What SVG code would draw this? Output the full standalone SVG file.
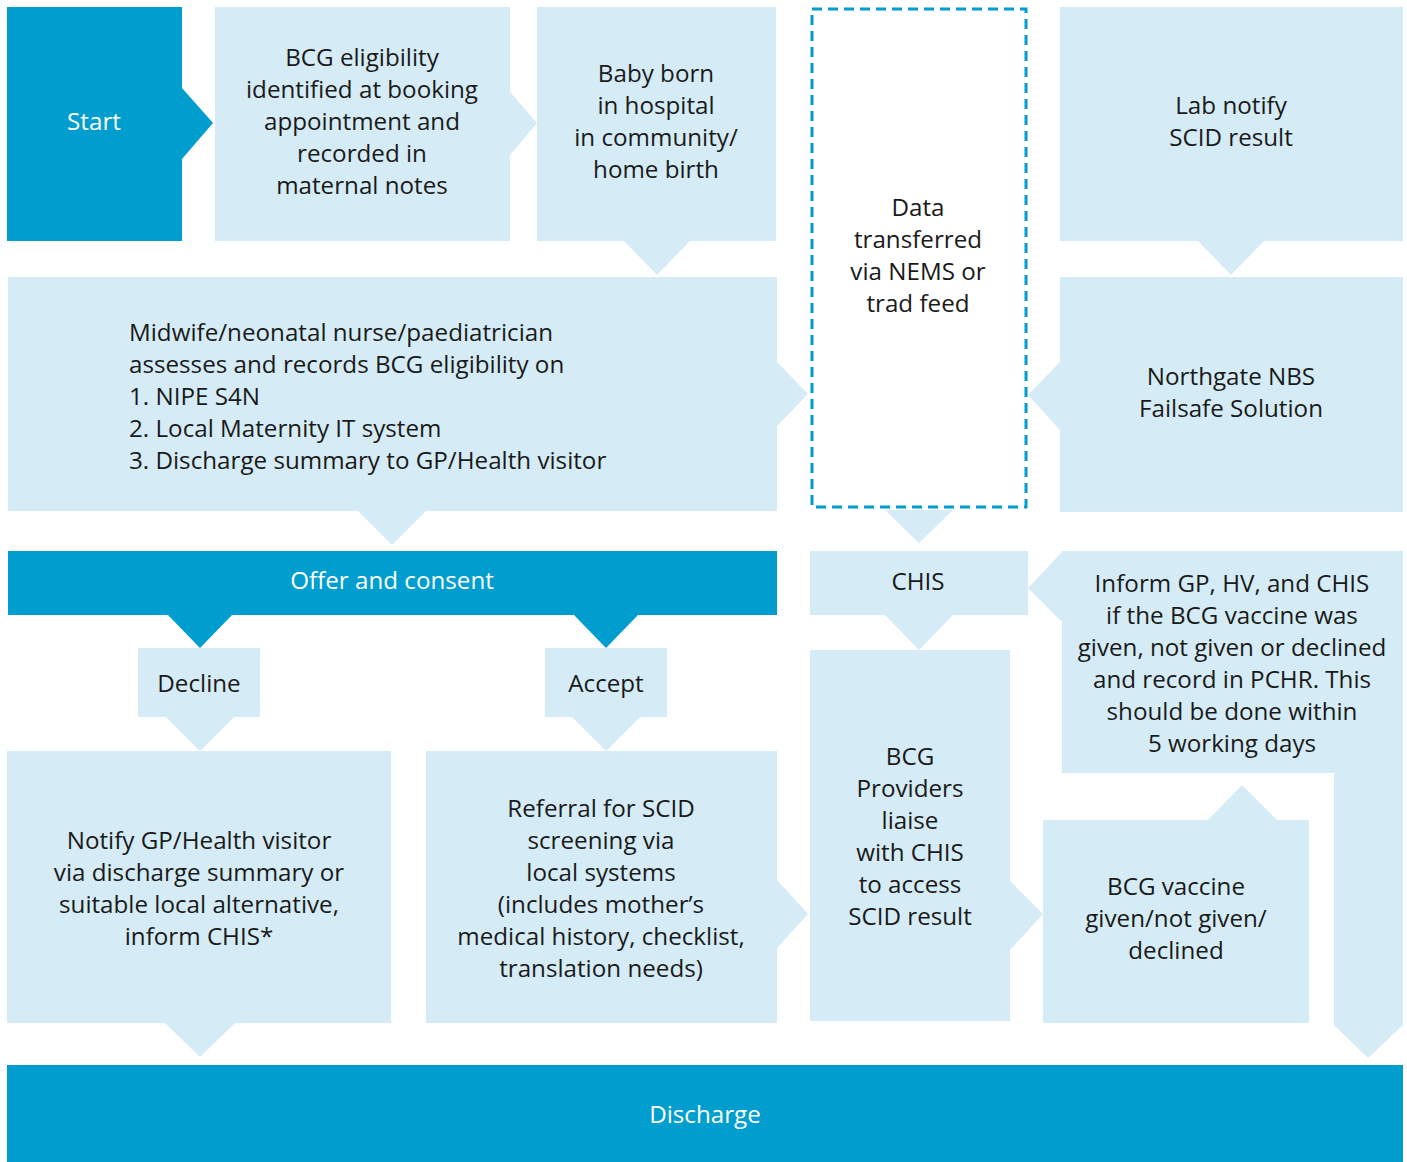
<svg xmlns="http://www.w3.org/2000/svg" width="1407" height="1162" viewBox="0 0 1407 1162">
<style>
.dk{fill:#009ECE}
.lt{fill:#D5ECF6}
text{font-family:"Open Sans","Noto Sans","Liberation Sans",sans-serif;font-size:24.2px;fill:#1a1a1a;text-anchor:middle}
text.w{fill:#ffffff}
text.l{text-anchor:start}
</style>
<rect width="1407" height="1162" fill="#ffffff"/>
<g id="connectors">
<polygon class="dk" points="182,88 213,123 182,159"/>
<polygon class="lt" points="510,92 537,123 510,155"/>
<polygon class="lt" points="624,241 657,275 690,241"/>
<polygon class="lt" points="1198,241 1231,275 1264,241"/>
<polygon class="lt" points="777,362 808,394 777,426"/>
<polygon class="lt" points="1060,362 1028,395 1060,430"/>
<polygon class="lt" points="885,510 919,543 953,510"/>
<polygon class="lt" points="358,511 392,545 426,511"/>
<polygon class="dk" points="167,614 200,648 233,614"/>
<polygon class="dk" points="573,614 606,648 639,614"/>
<polygon class="lt" points="166,717 200,751 234,717"/>
<polygon class="lt" points="572,717 606,751 640,717"/>
<polygon class="lt" points="165,1023 200,1057 235,1023"/>
<polygon class="lt" points="777,880 808,914 777,948"/>
<polygon class="lt" points="885,615 919,650 953,615"/>
<polygon class="lt" points="1062,552 1028,588 1062,622"/>
<polygon class="lt" points="1010,881 1043,914 1010,950"/>
<polygon class="lt" points="1208,820 1242,785 1277,820"/>
<polygon class="lt" points="1334,773 1403,773 1403,1025 1368,1058 1334,1025"/>
</g>
<g id="start"><rect class="dk" x="7" y="7" width="175" height="234"/><text class="w" x="94" y="130">Start</text></g>
<g id="booking"><rect class="lt" x="215" y="7" width="295" height="234"/>
<text x="362" y="66">BCG eligibility</text><text x="362" y="98">identified at booking</text><text x="362" y="130">appointment and</text><text x="362" y="162">recorded in</text><text x="362" y="194">maternal notes</text></g>
<g id="born"><rect class="lt" x="537" y="7" width="239" height="234"/>
<text x="656" y="82">Baby born</text><text x="656" y="114">in hospital</text><text x="656" y="146">in community/</text><text x="656" y="178">home birth</text></g>
<g id="data"><rect x="812" y="9" width="214" height="498" fill="#ffffff" stroke="#009ECE" stroke-width="3" stroke-dasharray="10,6"/>
<text x="918" y="216">Data</text><text x="918" y="248">transferred</text><text x="918" y="280">via NEMS or</text><text x="918" y="312">trad feed</text></g>
<g id="lab"><rect class="lt" x="1060" y="7" width="343" height="234"/>
<text x="1231" y="114">Lab notify</text><text x="1231" y="146">SCID result</text></g>
<g id="northgate"><rect class="lt" x="1060" y="277" width="343" height="235"/>
<text x="1231" y="385">Northgate NBS</text><text x="1231" y="417">Failsafe Solution</text></g>
<g id="midwife"><rect class="lt" x="8" y="277" width="769" height="234"/>
<text class="l" x="129" y="341">Midwife/neonatal nurse/paediatrician</text><text class="l" x="129" y="373">assesses and records BCG eligibility on</text><text class="l" x="129" y="405">1. NIPE S4N</text><text class="l" x="129" y="437">2. Local Maternity IT system</text><text class="l" x="129" y="469">3. Discharge summary to GP/Health visitor</text></g>
<g id="offer"><rect class="dk" x="8" y="551" width="769" height="64"/><text class="w" x="392" y="589">Offer and consent</text></g>
<g id="chis"><rect class="lt" x="810" y="551" width="218" height="64"/><text x="918" y="590">CHIS</text></g>
<g id="inform"><rect class="lt" x="1062" y="551" width="341" height="222"/>
<text x="1232" y="592">Inform GP, HV, and CHIS</text><text x="1232" y="624">if the BCG vaccine was</text><text x="1232" y="656">given, not given or declined</text><text x="1232" y="688">and record in PCHR. This</text><text x="1232" y="720">should be done within</text><text x="1232" y="752">5 working days</text></g>
<g id="decline"><rect class="lt" x="138" y="648" width="122" height="69"/><text x="199" y="692">Decline</text></g>
<g id="accept"><rect class="lt" x="545" y="648" width="122" height="69"/><text x="606" y="692">Accept</text></g>
<g id="notify"><rect class="lt" x="7" y="751" width="384" height="272"/>
<text x="199" y="849">Notify GP/Health visitor</text><text x="199" y="881">via discharge summary or</text><text x="199" y="913">suitable local alternative,</text><text x="199" y="945">inform CHIS*</text></g>
<g id="referral"><rect class="lt" x="426" y="751" width="351" height="272"/>
<text x="601" y="817">Referral for SCID</text><text x="601" y="849">screening via</text><text x="601" y="881">local systems</text><text x="601" y="913">(includes mother’s</text><text x="601" y="945">medical history, checklist,</text><text x="601" y="977">translation needs)</text></g>
<g id="providers"><rect class="lt" x="810" y="650" width="200" height="371"/>
<text x="910" y="765">BCG</text><text x="910" y="797">Providers</text><text x="910" y="829">liaise</text><text x="910" y="861">with CHIS</text><text x="910" y="893">to access</text><text x="910" y="925">SCID result</text></g>
<g id="vaccine"><rect class="lt" x="1043" y="820" width="266" height="203"/>
<text x="1176" y="895">BCG vaccine</text><text x="1176" y="927">given/not given/</text><text x="1176" y="959">declined</text></g>
<g id="discharge"><rect class="dk" x="7" y="1065" width="1396" height="97"/><text class="w" x="705" y="1123">Discharge</text></g>
</svg>
